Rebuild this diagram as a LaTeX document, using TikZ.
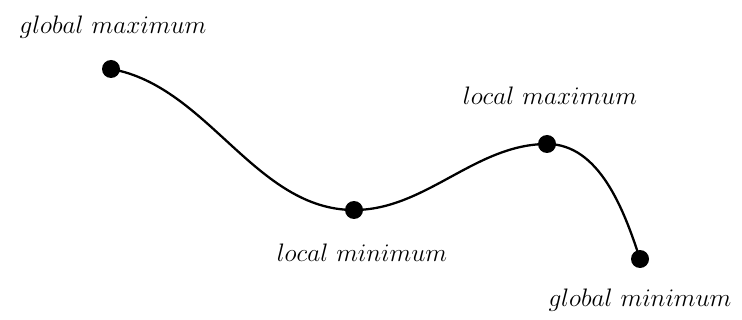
\documentclass[tikz,border=0pt]{standalone}
\begin{document}
\begin{tikzpicture}[x=0.02cm,y=-0.02cm,
  pt/.style={circle,fill=black,inner sep=0pt,minimum size=0.36cm},
  lbl/.style={font=\fontsize{15.3}{18}\selectfont,inner sep=0pt,anchor=base},
  crv/.style={line width=1.3pt}]
\useasboundingbox (0,0) rectangle (742,320);
\node[pt] (gmax) at (111,69) {};
\node[pt] (lmin) at (354,210) {};
\node[pt] (lmax) at (547,144) {};
\node[pt] (gmin) at (640,259) {};
\draw[crv] (gmax.center) to[out=-10,in=180,looseness=0.9] (lmin.center)
  to[out=0,in=180,looseness=0.9] (lmax.center)
  to[out=0,in=108,looseness=0.9] (gmin.center);
\node[lbl] (t1) at (113,34) {$global\ maximum$};
\node[lbl] (t2) at (550,105) {$local\ maximum$};
\node[lbl] (t3) at (362,261) {$local\ minimum$};
\node[lbl] (t4) at (640,306) {$global\ minimum$};
\end{tikzpicture}
\end{document}
